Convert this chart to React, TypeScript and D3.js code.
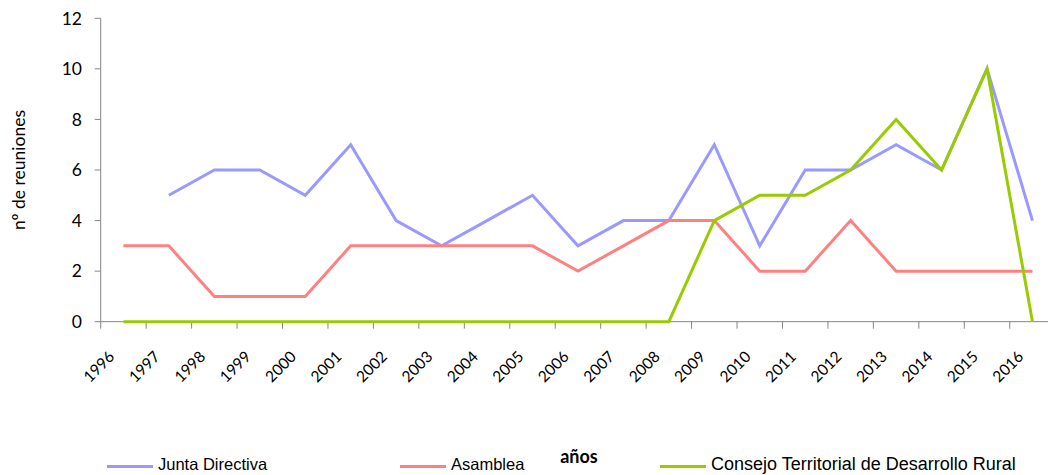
import React from "react";
import * as d3 from "d3";

const years = ["1996","1997","1998","1999","2000","2001","2002","2003","2004","2005","2006","2007","2008","2009","2010","2011","2012","2013","2014","2015","2016"];
const juntaDirectiva: (number | null)[] = [null,5,6,6,5,7,4,3,4,5,3,4,4,7,3,6,6,7,6,10,4];
const asamblea: (number | null)[] = [3,3,1,1,1,3,3,3,3,3,2,3,4,4,2,2,4,2,2,2,2];
const consejo: (number | null)[] = [0,0,0,0,0,0,0,0,0,0,0,0,0,4,5,5,6,8,6,10,0];
const yTicks = [0,2,4,6,8,10,12];

const seriesList = [
  { name: "Junta Directiva", values: juntaDirectiva, color: "#9999FF" },
  { name: "Asamblea", values: asamblea, color: "#FF8080" },
  { name: "Consejo Territorial de Desarrollo Rural", values: consejo, color: "#99CC00" },
];

const W = 1048, H = 475;
const left = 100.7, right = 1055.2, top = 18.3, bottom = 321.7;

export default function App() {
  const x = d3.scaleBand<string>().domain(years).range([left, right]).padding(0);
  const y = d3.scaleLinear().domain([0, 12]).range([bottom, top]);
  const line = d3.line<number | null>()
    .defined((d) => d !== null)
    .x((_, i) => (x(years[i]) as number) + x.bandwidth() / 2)
    .y((d) => y(d as number));
  const axisColor = "#868686";
  const font = "Lato, 'Open Sans', sans-serif";
  const legendFont = "'Liberation Sans Narrow', 'Arial Narrow', sans-serif";
  const legendX = [107, 400, 660];
  const legendSize = [16.5, 16.5, 18];
  return (
    <svg width={W} height={H} style={{ position: "absolute", left: 0, top: 0 }}>
      <rect width={W} height={H} fill="#fff" />
      {/* y axis */}
      <line x1={left} x2={left} y1={top} y2={bottom} stroke={axisColor} strokeWidth={1} />
      {yTicks.map((t) => (
        <g key={t}>
          <line x1={left - 6} x2={left} y1={y(t)} y2={y(t)} stroke={axisColor} />
          <text x={82} y={y(t)} dy="0.36em" textAnchor="end" fontFamily={font} fontSize={17.5} fill="#000">{t}</text>
        </g>
      ))}
      {/* x axis */}
      <line x1={left} x2={W} y1={bottom} y2={bottom} stroke={axisColor} />
      {years.map((yr) => (
        <line key={"t" + yr} x1={(x(yr) as number)} x2={(x(yr) as number)} y1={bottom} y2={bottom + 7} stroke={axisColor} />
      ))}
      {years.map((yr) => {
        const cx = (x(yr) as number) + x.bandwidth() / 2;
        return (
          <text key={yr} transform={`translate(${cx - 8},${bottom + 36}) rotate(-45)`} textAnchor="end" fontFamily={font} fontSize={15.5} fill="#000">{yr}</text>
        );
      })}
      {/* lines */}
      {seriesList.map((s) => (
        <path key={s.name} d={line(s.values) || ""} fill="none" stroke={s.color} strokeWidth={3} strokeLinejoin="miter" />
      ))}
      {/* y title */}
      <text transform={`translate(25,170) rotate(-90)`} textAnchor="middle" fontFamily={font} fontSize={17.5} fill="#000">nº de reuniones</text>
      {/* x title */}
      <text x={579} y={463} textAnchor="middle" fontFamily={font} fontWeight="bold" fontSize={18} fill="#000">años</text>
      {/* legend */}
      {seriesList.map((s, i) => (
        <g key={"l" + s.name}>
          <line x1={legendX[i]} x2={legendX[i] + 46} y1={466.5} y2={466.5} stroke={s.color} strokeWidth={3} />
          <text x={legendX[i] + 51} y={470} fontFamily={legendFont} fontSize={legendSize[i]} fill="#000">{s.name}</text>
        </g>
      ))}
    </svg>
  );
}
